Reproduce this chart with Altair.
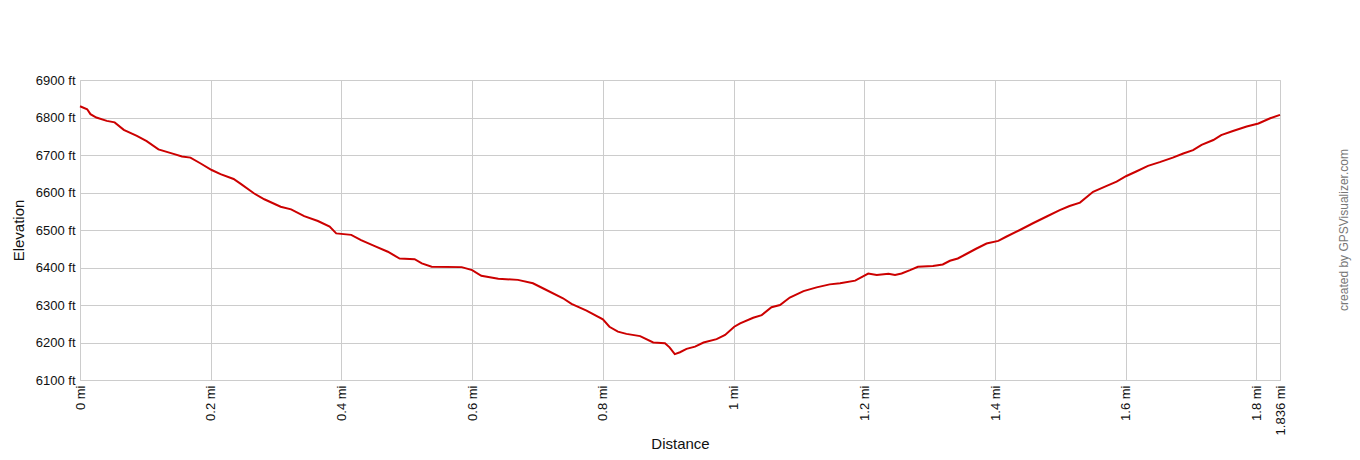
import altair as alt
import pandas as pd

# Distance along the track (miles)
distance_mi = [
    0, 0.011, 0.016, 0.025, 0.041, 0.053, 0.067, 0.087, 0.102, 0.12,
    0.143, 0.156, 0.169, 0.184, 0.2015, 0.215, 0.235, 0.246, 0.266, 0.282,
    0.307, 0.323, 0.343, 0.364, 0.382, 0.392, 0.415, 0.43, 0.451, 0.471,
    0.489, 0.512, 0.523, 0.538, 0.584,
    0.6, 0.614, 0.64, 0.67, 0.693, 0.709, 0.739, 0.752, 0.775, 0.8,
    0.81, 0.823, 0.836, 0.857, 0.877, 0.895, 0.902, 0.91, 0.918, 0.928,
    0.941, 0.954, 0.974, 0.987, 1.001, 1.01, 1.03, 1.043, 1.058, 1.071,
    1.086, 1.107, 1.127, 1.147, 1.163, 1.186, 1.206,
    1.219, 1.237, 1.247, 1.257, 1.27, 1.282, 1.305, 1.32, 1.331, 1.343,
    1.356, 1.371, 1.387, 1.405, 1.417, 1.438, 1.458, 1.479, 1.499, 1.514,
    1.53, 1.55, 1.57, 1.586, 1.601, 1.616, 1.634, 1.652, 1.672, 1.688,
    1.703, 1.716, 1.734, 1.746, 1.764, 1.785, 1.803, 1.821, 1.836,
]

# Elevation (feet)
elevation_ft = [
    6830, 6822, 6809, 6800, 6791, 6787, 6767, 6751, 6737, 6715,
    6703, 6696, 6693, 6678, 6660, 6649, 6636, 6623, 6598, 6582,
    6562, 6555, 6537, 6524, 6509, 6491, 6487, 6473, 6457, 6442,
    6424, 6422, 6411, 6402, 6401,
    6393, 6378, 6370, 6367, 6358, 6344, 6318, 6303, 6285, 6262,
    6242, 6229, 6223, 6217, 6200, 6198, 6187, 6169, 6174, 6183,
    6189, 6200, 6209, 6220, 6242, 6251, 6266, 6273, 6294, 6300,
    6320, 6337, 6347, 6355, 6358, 6365, 6384,
    6380, 6383, 6380, 6384, 6393, 6402, 6404, 6408, 6418, 6424,
    6436, 6450, 6464, 6471, 6482, 6500, 6518, 6536, 6553, 6564,
    6573, 6602, 6617, 6629, 6644, 6656, 6671, 6681, 6693, 6704,
    6713, 6727, 6740, 6753, 6764, 6776, 6784, 6798, 6807,
]

x_ticks = [0, 0.2, 0.4, 0.6, 0.8, 1, 1.2, 1.4, 1.6, 1.8, 1.836]
y_ticks = [6100, 6200, 6300, 6400, 6500, 6600, 6700, 6800, 6900]
watermark = ["created by GPSVisualizer.com"]

df = pd.DataFrame({"dist": distance_mi, "elev": elevation_ft})

FONT = "Liberation Sans"

line = alt.Chart(df).mark_line(color="#cc0000", strokeWidth=2).encode(
    x=alt.X(
        "dist:Q",
        scale=alt.Scale(domain=[0, 1.836], nice=False, zero=False),
        axis=alt.Axis(
            values=x_ticks,
            labelExpr="format(datum.value, '~g') + ' mi'",
            labelAngle=270,
            labelAlign="right",
            labelBaseline="middle",
            labelPadding=5,
            labelFontSize=13,
            labelColor="#111111",
            labelFont=FONT,
            ticks=False,
            domain=False,
            grid=True,
            gridColor="#cccccc",
            gridWidth=1,
            title="Distance",
            titleFont=FONT,
            titleFontSize=15,
            titleFontWeight="normal",
            titleColor="#111111",
            titleX=600,
            titleY=68,
            titleAlign="center",
            titleBaseline="alphabetic",
            labelOverlap=False,
            labelFlush=False,
        ),
    ),
    y=alt.Y(
        "elev:Q",
        scale=alt.Scale(domain=[6100, 6900], nice=False, zero=False),
        axis=alt.Axis(
            values=y_ticks,
            labelExpr="datum.value + ' ft'",
            labelPadding=5,
            labelFontSize=13,
            labelColor="#111111",
            labelFont=FONT,
            ticks=False,
            domain=False,
            grid=True,
            gridColor="#cccccc",
            gridWidth=1,
            title="Elevation",
            titleFont=FONT,
            titleFontSize=15,
            titleFontWeight="normal",
            titleColor="#111111",
            titleX=-62,
            titleY=150,
            titleAngle=270,
            titleAlign="center",
            titleBaseline="middle",
            labelOverlap=False,
            labelFlush=False,
        ),
    ),
)

wm = alt.Chart(pd.DataFrame({"t": watermark})).mark_text(
    angle=270,
    align="center",
    baseline="middle",
    font=FONT,
    fontSize=12,
    color="#777777",
).encode(
    text="t:N",
    x=alt.value(1264),
    y=alt.value(150),
)

chart = (
    alt.layer(line, wm)
    .properties(
        width=1200,
        height=300,
        autosize=alt.AutoSizeParams(type="none"),
        padding={"left": 72, "top": 72, "right": 72, "bottom": 72},
        background="white",
    )
    .configure_view(stroke="#cccccc", strokeWidth=1)
)

chart.save("out.html", embed_options={"renderer": "svg", "actions": False})
